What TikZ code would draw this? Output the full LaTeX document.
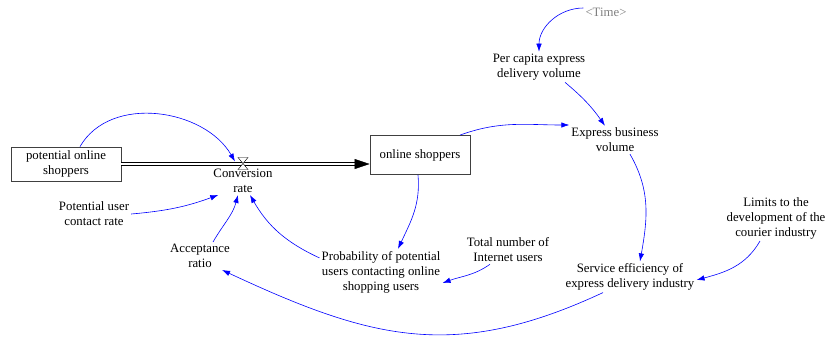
\documentclass[tikz,border=0pt]{standalone}
\usepackage{fontspec}
\setmainfont{Liberation Serif}
\usepackage{tikz}
\usetikzlibrary{arrows.meta}

\begin{document}
\begin{tikzpicture}[x=1pt,y=1pt,font=\fontsize{12.8}{15}\selectfont,
  stock/.style={draw=black!75, line width=0.8pt, align=center, inner sep=2pt},
  aux/.style={align=center, inner sep=2pt},
  link/.style={blue, line width=0.6pt, -{Latex[length=8pt,width=5.5pt]}},
  pipe/.style={double, double distance=2pt, line width=0.6pt}]
\useasboundingbox (0,0) rectangle (830,-338);
\node[stock, minimum width=110, minimum height=34] (Potential) at (66,-164) {potential online\\shoppers};
\node[stock, minimum width=100, minimum height=39] (Online) at (420,-155) {online shoppers};
\coordinate (Valve) at (243,-163.5);
\node[aux] (Conversion) at (243,-181) {Conversion\\rate};
\node[aux] (Contact) at (94,-214) {Potential user\\contact rate};
\node[aux] (Acceptance) at (200,-256) {Acceptance\\ratio};
\node[aux] (Probability) at (381,-272) {Probability of potential\\users contacting online\\shopping users};
\node[aux] (Internet) at (508,-250) {Total number of\\Internet users};
\node[aux] (Service) at (630,-277) {Service efficiency of\\express delivery industry};
\node[aux] (Limits) at (776,-218) {Limits to the\\development of the\\courier industry};
\node[aux] (Express) at (615,-140) {Express business\\volume};
\node[aux] (PerCapita) at (539,-67) {Per capita express\\delivery volume};
\node[aux, gray] (Time) at (606,-12) {<Time>};
\draw[pipe, shorten >=14pt] (Potential.east) -- (Potential.east -| Online.west);
\draw[-{Triangle[length=15pt,width=10pt]}] ([xshift=-15pt]Potential.east -| Online.west) -- (Potential.east -| Online.west);
\draw[fill=white] ([shift={(-5,6)}]Valve) -- ([shift={(5,6)}]Valve) -- ([shift={(-5,-6)}]Valve) -- ([shift={(5,-6)}]Valve) -- cycle;
\draw[link] ([xshift=14pt]Potential.north) to[out=60, in=120] ([xshift=-8pt,yshift=2pt]Valve);
\draw[link] (Contact.east) to[out=5, in=200] ([xshift=7pt]Conversion.south west);
\draw[link] ([xshift=13pt]Acceptance.north) to[out=60, in=-105] ([xshift=-5pt]Conversion.south);
\draw[link] ([yshift=-9pt]Probability.north west) to[out=155, in=-60] ([xshift=7pt]Conversion.south);
\draw[link] ([xshift=-2pt]Online.south) to[out=-85, in=65] ([xshift=17pt]Probability.north);
\draw[link] ([xshift=-18pt]Internet.south) to[out=-145, in=20] ([yshift=-11pt]Probability.east);
\draw[link] ([xshift=40pt]Online.north) to[out=20, in=180] ([yshift=15pt]Express.west);
\draw[link] ([yshift=4pt]Time.west) to[out=180, in=90] (PerCapita.north);
\draw[link] ([xshift=26pt]PerCapita.south) to[out=-40, in=125] ([xshift=-10pt]Express.north);
\draw[link] ([xshift=15pt]Express.south) to[out=-60, in=80] ([xshift=10pt]Service.north);
\draw[link] ([xshift=-16pt]Limits.south) to[out=-120, in=15] ([yshift=-3pt]Service.east);
\draw[link] ([xshift=-27pt]Service.south) to[out=-155, in=-25, looseness=1.1] ([xshift=-10pt]Acceptance.south east);
\end{tikzpicture}
\end{document}
